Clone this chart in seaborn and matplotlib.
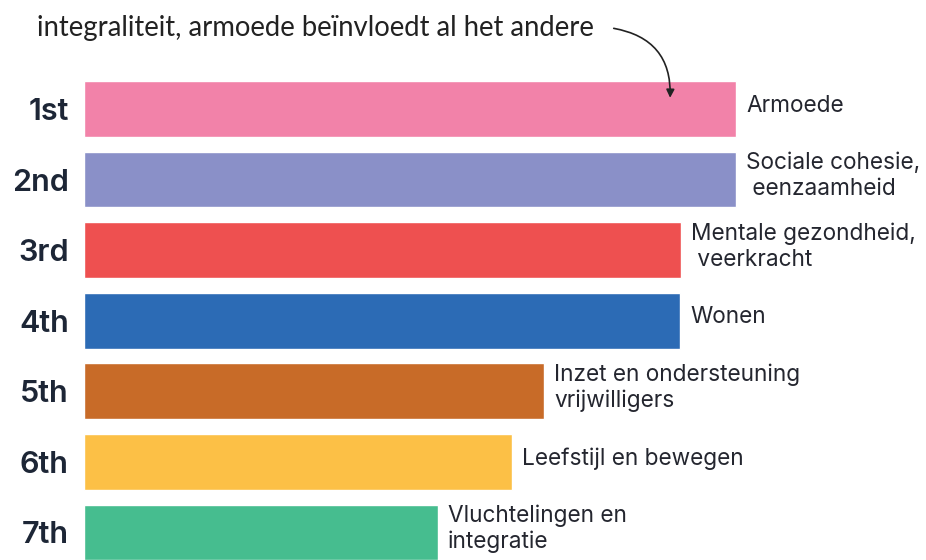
import numpy as np
import pandas as pd
import matplotlib.pyplot as plt
import seaborn as sns

# data (bar lengths in relative units)
ranks = ['1st', '2nd', '3rd', '4th', '5th', '6th', '7th']
labels = ['Armoede', 'Sociale cohesie,\n eenzaamheid', 'Mentale gezondheid,\n veerkracht',
          'Wonen', 'Inzet en ondersteuning\nvrijwilligers', 'Leefstijl en bewegen',
          'Vluchtelingen en\nintegratie']
scores = [652, 652, 597, 596, 460, 428, 354]
colors = ['#f282a9', '#8a90c8', '#ee5050', '#2c6bb5', '#c86b28', '#fcc046', '#46bd8f']

df = pd.DataFrame({'rank': ranks, 'label': labels, 'score': scores})

sns.set_style('white')
plt.rcParams['font.family'] = ['Lato', 'DejaVu Sans']

fig = plt.figure(figsize=(9.26, 5.6), dpi=100)
ax = fig.add_axes([84 / 926, 0, 1 - 84 / 926, 1])

sns.barplot(data=df, x='score', y='rank', hue='rank', palette=colors,
            width=0.79, legend=False, ax=ax, saturation=1)

ax.set_xlim(0, 842)
ax.set_ylim(6.39, -1.545)
ax.set_xlabel('')
ax.set_ylabel('')
ax.set_xticks([])
for s in ax.spines.values():
    s.set_visible(False)
ax.tick_params(axis='y', length=0, pad=11)
for t in ax.get_yticklabels():
    t.set_fontfamily(['Inter', 'DejaVu Sans'])
    t.set_fontweight('semibold')
    t.set_fontsize(22)
    t.set_color('#1d2636')

for i, (lab, sc) in enumerate(zip(labels, scores)):
    ax.text(sc + 10, i - 0.05, lab, ha='left', va='center', fontsize=16.3,
            family=['Inter', 'DejaVu Sans'], color='#24262f', linespacing=1.2)

fig.text(37 / 926, 1 - 28 / 560, 'integraliteit, armoede beïnvloedt al het andere',
         ha='left', va='center', fontsize=19.8, color='#222222')

ax.annotate('', xy=(586, -0.12), xytext=(527, -1.15),
            arrowprops=dict(arrowstyle='-|>', color='#222222', lw=1.2,
                            connectionstyle='arc3,rad=-0.45', mutation_scale=12))

fig.savefig('out.png', dpi=100)
